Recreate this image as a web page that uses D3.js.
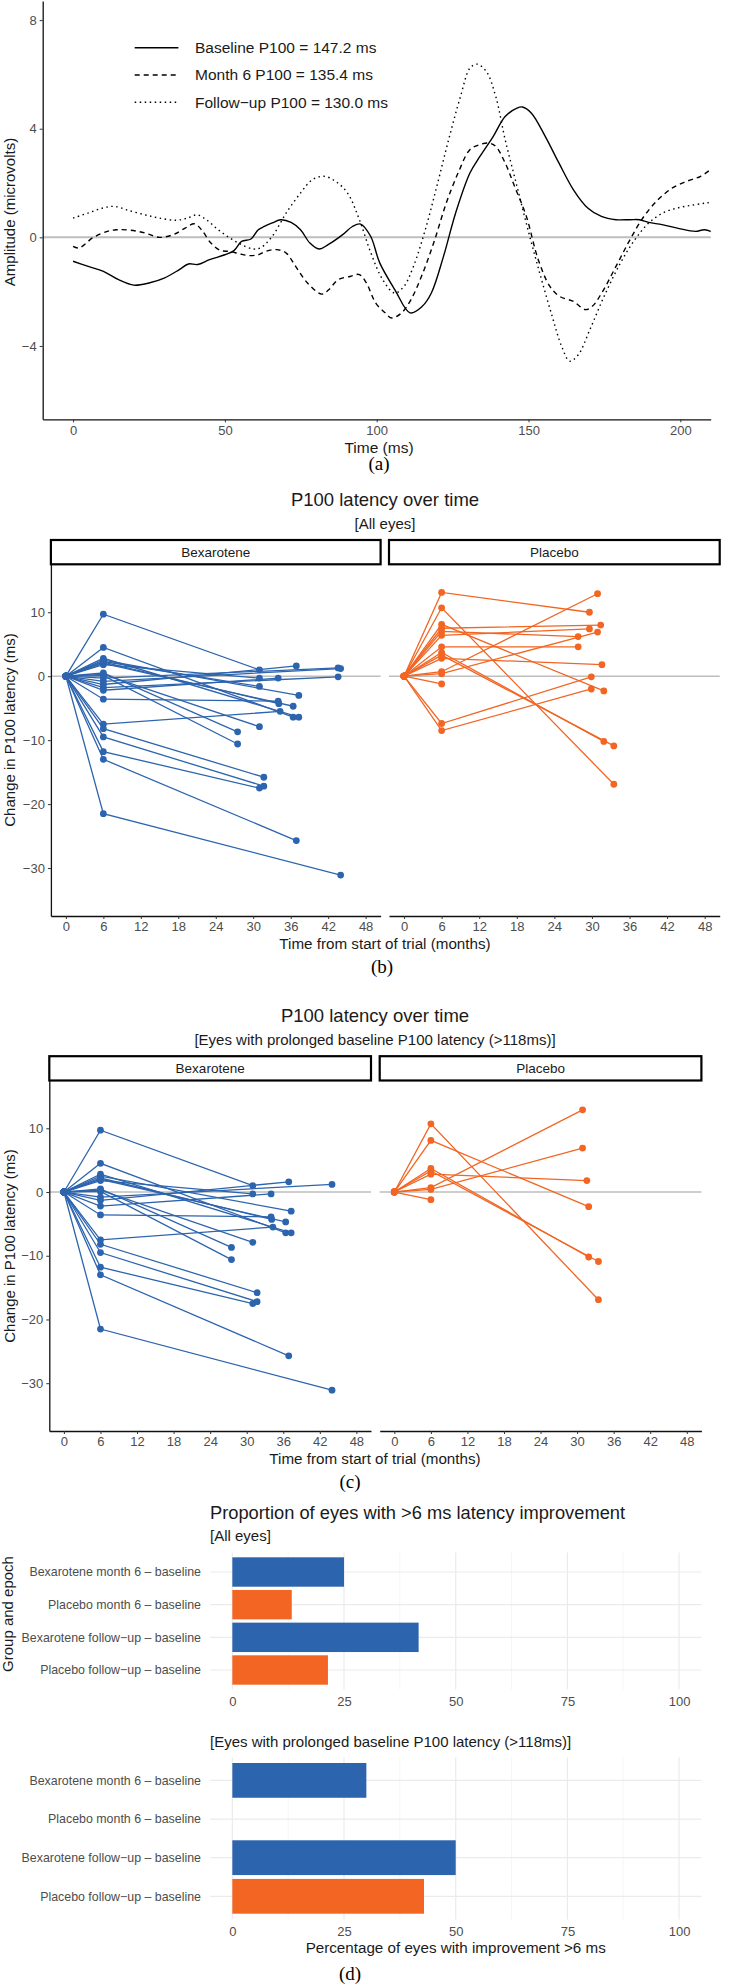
<!DOCTYPE html>
<html>
<head>
<meta charset="utf-8">
<script src="https://cdn.jsdelivr.net/npm/d3@7"></script>
<style>
body { margin: 0; background: #fff; }
text { font-family: "Liberation Sans", Arial, sans-serif; }
.tag { font-family: "Liberation Serif", "Times New Roman", serif; }
</style>
</head>
<body>
<div id="chart"></div>
<script>
// ---- (a) VEP waveforms, [time ms, amplitude microvolts]
const baselineWave = [[0,-0.88],[5,-1.07],[10,-1.25],[15,-1.56],[20,-1.76],[25,-1.68],[30,-1.5],[35,-1.19],[38,-0.98],[41,-1.0],[45,-0.82],[50,-0.64],[53,-0.49],[55.5,-0.15],[58.6,-0.06],[61,0.28],[63,0.4],[65.6,0.53],[68.4,0.65],[71.8,0.55],[74.9,0.28],[78,-0.21],[81,-0.43],[84,-0.27],[88.8,0.1],[92,0.4],[94.7,0.49],[98,0.04],[101,-0.94],[106,-1.93],[111,-2.78],[115,-2.54],[118,-2.05],[122,-0.7],[126,0.9],[130.7,2.37],[134,2.98],[138.4,3.72],[142.3,4.45],[146.2,4.76],[148,4.8],[150.9,4.58],[155.5,3.72],[160,2.74],[164.8,1.75],[169.5,1.08],[174,0.77],[178.8,0.65],[183.4,0.65],[186.5,0.65],[189.6,0.55],[194,0.47],[199,0.34],[205,0.22],[208,0.28],[212,0.13]];
const month6Wave = [[0,-0.33],[2,-0.39],[6.7,0.0],[11.3,0.22],[14.4,0.28],[19,0.26],[23.7,0.16],[28.4,0.0],[33,0.1],[36.9,0.34],[40,0.5],[42.3,0.28],[45.4,-0.21],[48.5,-0.48],[51.6,-0.52],[54.7,-0.6],[57.8,-0.67],[61,-0.64],[63.3,-0.52],[67,-0.45],[70.2,-0.58],[73.3,-1.07],[77.2,-1.68],[81.9,-2.09],[84.2,-1.93],[87.3,-1.56],[91.2,-1.44],[94.3,-1.37],[96.6,-1.68],[99.7,-2.42],[102.8,-2.78],[105,-2.97],[108.2,-2.78],[111.3,-2.29],[115.2,-1.31],[119.1,-0.09],[122.9,1.26],[126.8,2.37],[130.7,3.23],[133.8,3.41],[136.9,3.47],[139.2,3.35],[142.3,2.74],[145.4,1.88],[149.3,0.77],[153.2,-0.82],[157,-1.8],[160.2,-2.17],[164.8,-2.36],[168.7,-2.66],[171,-2.54],[174.1,-2.05],[178.8,-1.07],[183.4,-0.09],[188,0.77],[192.7,1.39],[197.4,1.82],[202,2.06],[206.7,2.25],[211.3,2.61]];
const followUpWave = [[0,0.71],[5.1,0.9],[9.8,1.08],[13.6,1.14],[18.3,0.99],[23.7,0.83],[28.4,0.71],[33.8,0.63],[37.7,0.71],[40.8,0.83],[43.9,0.65],[47.8,0.28],[51.6,-0.02],[55.5,-0.27],[59.4,-0.43],[61.7,-0.39],[65.6,0.04],[70.2,0.9],[74.9,1.63],[78.8,2.12],[82.6,2.25],[86.5,2.06],[90.4,1.63],[94.3,0.65],[98.1,-0.58],[102,-1.56],[105.9,-2.05],[109,-1.8],[112.1,-1.07],[116,0.28],[119.8,1.88],[123.7,3.6],[127.6,5.19],[130.7,6.23],[133,6.38],[136.1,6.11],[139.2,5.19],[142.3,3.6],[146.2,1.88],[150.1,0.16],[154,-1.44],[157.8,-2.91],[160.9,-4.01],[163.6,-4.56],[166.4,-4.32],[170.2,-3.4],[174.9,-2.17],[180.3,-0.94],[185,-0.09],[189.6,0.53],[194.3,0.9],[199,1.08],[203.6,1.18],[208.2,1.26],[212,1.32]];
const waveLegend = ["Baseline P100 = 147.2 ms", "Month 6 P100 = 135.4 ms", "Follow\u2212up P100 = 130.0 ms"];
const waveTicksX = [0, 50, 100, 150, 200];
const waveTicksY = [-4, 0, 4, 8];

// ---- (b)/(c) change in P100 latency per eye
// month 6 change, follow-up month, follow-up change, in the prolonged-baseline subset?
const bexM6     = [9.7, 4.5, 2.8, 2.5, 2.2, 2.0, 1.8, 2.3, 0.5, 0.1, 0.3, -0.3, -0.8, -1.3, -1.8, -2.2, -3.6, -7.5, -8.2, -9.5, -11.8, -13.0, -21.5];
const bexFuTime = [31.0, 36.4, 37.3, 37.3, 34.1, 36.4, 31.0, 31.0, 27.5, 27.5, 31.0, 43.6, 44.0, 36.9, 43.6, 34.0, 34.0, 34.3, 31.7, 31.7, 31.0, 36.9, 44.0];
const bexFu     = [1.0, -6.4, -6.4, -3.0, -4.3, -4.7, -0.3, -1.6, -8.7, -10.6, -7.9, 1.3, 1.2, 1.6, -0.1, -0.3, -3.9, -5.5, -15.8, -17.2, -17.5, -25.7, -31.1];
const bexLong   = [1, 1, 1, 1, 1, 1, 1, 0, 1, 1, 1, 0, 1, 1, 0, 1, 1, 1, 1, 1, 1, 1, 1];
const plaM6     = [13.1, 10.7, 8.1, 7.5, 7.0, 6.4, 4.6, 3.7, 3.3, 2.8, 0.7, 0.4, -1.2, -7.4, -8.5];
const plaFuTime = [29.6, 33.5, 31.9, 31.4, 27.8, 29.6, 27.8, 31.9, 33.5, 31.6, 30.9, 30.9, null, 29.9, 29.9];
const plaFu     = [10.0, -16.9, -2.3, 8.0, 6.2, 7.4, 4.6, -10.2, -10.9, 1.8, 12.9, 6.9, null, -0.1, -2.0];
const plaLong   = [0, 1, 1, 0, 0, 0, 0, 1, 1, 1, 1, 1, 1, 0, 0];
const monthTicks = [0, 6, 12, 18, 24, 30, 36, 42, 48];
const changeTicks = [-30, -20, -10, 0, 10];

// ---- (d) proportion with >6 ms improvement
const groups = ["Bexarotene month 6 \u2013 baseline", "Placebo month 6 \u2013 baseline", "Bexarotene follow\u2212up \u2013 baseline", "Placebo follow\u2212up \u2013 baseline"];
const pctAll = [25.0, 13.3, 41.7, 21.4];
const pctLong = [30.0, 0, 50.0, 42.9];
const pctTicks = [0, 25, 50, 75, 100];

const BLUE = "#2D64AE", ORANGE = "#F26522", GREY = "#4D4D4D";

const svg = d3.select("#chart").append("svg")
    .attr("width", 738).attr("height", 1985)
    .style("display", "block");

// small helper for text
function label(g, x, y, txt, size, opts = {}) {
    return g.append("text").attr("x", x).attr("y", y)
        .attr("dy", "0.35em")
        .attr("text-anchor", opts.anchor || "middle")
        .attr("font-size", size)
        .attr("fill", opts.fill || "#1a1a1a")
        .attr("transform", opts.rotate ? `rotate(-90,${x},${y})` : null)
        .attr("class", opts.cls || null)
        .text(txt);
}

function styleAxis(g, domainOn) {
    g.selectAll(".tick line").attr("stroke", "#333").attr("stroke-width", 1);
    g.selectAll(".tick text").attr("fill", GREY).attr("font-size", 13)
        .attr("font-family", '"Liberation Sans", Arial, sans-serif');
    g.select(".domain").attr("stroke", domainOn ? "#111" : "none").attr("stroke-width", 1.3);
}

// ================= (a)
{
    const xA = d3.scaleLinear().domain([-10, 210]).range([42.7, 710.7]);
    const yA = d3.scaleLinear().domain([-6.7, 8.7]).range([419.3, 1.1]);
    const g = svg.append("g");

    g.append("clipPath").attr("id", "clipA").append("rect")
        .attr("x", xA.range()[0]).attr("y", 0).attr("width", xA.range()[1] - xA.range()[0]).attr("height", 420);

    g.append("line").attr("x1", xA.range()[0]).attr("x2", xA.range()[1])
        .attr("y1", yA(0)).attr("y2", yA(0)).attr("stroke", "#BEBEBE").attr("stroke-width", 2);

    const line = d3.line().x(d => xA(d[0])).y(d => yA(d[1])).curve(d3.curveCatmullRom.alpha(0.5));
    const dashes = [null, "5,4", "1.5,3.5"];
    [baselineWave, month6Wave, followUpWave].forEach((w, i) => {
        g.append("path").datum(w).attr("d", line)
            .attr("fill", "none").attr("stroke", "#000").attr("stroke-width", 1.4)
            .attr("stroke-dasharray", dashes[i]).attr("clip-path", "url(#clipA)");
    });

    // legend
    waveLegend.forEach((t, i) => {
        const ly = 47.7 + i * 27.3;
        g.append("line").attr("x1", 134.7).attr("x2", 178.4).attr("y1", ly).attr("y2", ly)
            .attr("stroke", "#000").attr("stroke-width", 1.4).attr("stroke-dasharray", dashes[i]);
        label(g, 195, ly, t, 15.5, { anchor: "start" });
    });

    const ax = g.append("g").attr("transform", `translate(0,${yA.range()[0]})`)
        .call(d3.axisBottom(xA).tickValues(waveTicksX).tickSize(3).tickPadding(3).tickSizeOuter(0));
    styleAxis(ax, true);
    const ay = g.append("g").attr("transform", `translate(${xA.range()[0]},0)`)
        .call(d3.axisLeft(yA).tickValues(waveTicksY).tickSize(3).tickPadding(3).tickSizeOuter(0)
            .tickFormat(d => d < 0 ? "\u2212" + Math.abs(d) : d));
    styleAxis(ay, true);

    label(g, 379, 448, "Time (ms)", 15.5);
    label(g, 9.4, 212, "Amplitude (microvolts)", 15, { rotate: true });
    label(g, 379, 463, "(a)", 19, { cls: "tag", fill: "#000" });
}

// ================= (b) and (c)
function facetChart(L) {
    const g = svg.append("g");
    const y = d3.scaleLinear().domain([-37.5, 17.5]).range([L.bottom, L.top]);
    const facets = [
        { name: "Bexarotene", x0: L.bex[0], x1: L.bex[1], color: BLUE, m6: bexM6, ft: bexFuTime, fu: bexFu, keep: bexLong },
        { name: "Placebo", x0: L.pla[0], x1: L.pla[1], color: ORANGE, m6: plaM6, ft: plaFuTime, fu: plaFu, keep: plaLong }
    ];

    label(g, L.cx, L.titleY, "P100 latency over time", 18.5);
    label(g, L.cx, L.titleY + 24, L.subtitle, 15);

    facets.forEach((f, fi) => {
        const x = d3.scaleLinear().domain([-2.4, 50.4]).range([f.x0, f.x1]);

        // strip
        g.append("rect").attr("x", f.x0).attr("y", L.top - 24.3)
            .attr("width", f.x1 - f.x0).attr("height", 24.3)
            .attr("fill", "#fff").attr("stroke", "#000").attr("stroke-width", 2.2);
        label(g, (f.x0 + f.x1) / 2, L.top - 12.2, f.name, 13.5);

        g.append("line").attr("x1", f.x0).attr("x2", f.x1).attr("y1", y(0)).attr("y2", y(0))
            .attr("stroke", "#BEBEBE").attr("stroke-width", 1.6);

        const eyes = f.m6.map((v, i) => ({ m6: v, ft: f.ft[i], fu: f.fu[i], keep: f.keep[i] }))
            .filter(e => !L.prolonged || e.keep);

        const ln = d3.line().x(d => x(d[0])).y(d => y(d[1]));
        eyes.forEach(e => {
            const pts = [[0, 0], [6, e.m6]];
            if (e.ft != null) pts.push([e.ft, e.fu]);
            g.append("path").datum(pts).attr("d", ln)
                .attr("fill", "none").attr("stroke", f.color).attr("stroke-width", 1.3);
        });
        eyes.forEach(e => {
            const pts = [[0, 0], [6, e.m6]];
            if (e.ft != null) pts.push([e.ft, e.fu]);
            g.selectAll(null).data(pts).join("circle")
                .attr("cx", d => x(d[0])).attr("cy", d => y(d[1])).attr("r", 3.4)
                .attr("fill", f.color);
        });

        const ax = g.append("g").attr("transform", `translate(0,${L.bottom})`)
            .call(d3.axisBottom(x).tickValues(monthTicks).tickSize(3).tickPadding(3).tickSizeOuter(0));
        styleAxis(ax, true);

        if (fi === 0) {
            const ay = g.append("g").attr("transform", `translate(${f.x0},0)`)
                .call(d3.axisLeft(y).tickValues(changeTicks).tickSize(3).tickPadding(3).tickSizeOuter(0)
                    .tickFormat(d => d < 0 ? "\u2212" + Math.abs(d) : d));
            styleAxis(ay, true);
        }
    });

    label(g, L.cx, L.bottom + 28, "Time from start of trial (months)", 15.2);
    label(g, 9.4, L.yTitleY, "Change in P100 latency (ms)", 15, { rotate: true });
    label(g, L.tagX, L.bottom + 50, L.tag, 19, { cls: "tag", fill: "#000" });
}

facetChart({ top: 564.3, bottom: 916, bex: [50.9, 380.6], pla: [389, 719.7], titleY: 500, cx: 385,
    subtitle: "[All eyes]", prolonged: false, yTitleY: 730, tag: "(b)", tagX: 382 });
facetChart({ top: 1080.5, bottom: 1431, bex: [49.3, 371], pla: [379.7, 701.4], titleY: 1016, cx: 375,
    subtitle: "[Eyes with prolonged baseline P100 latency (>118ms)]", prolonged: true, yTitleY: 1246, tag: "(c)", tagX: 350 });

// ================= (d)
{
    const g = svg.append("g");
    const x = d3.scaleLinear().domain([-5, 105]).range([210, 701.4]);

    label(g, 210, 1512.7, "Proportion of eyes with >6 ms latency improvement", 18.3, { anchor: "start" });

    function barPanel(top, bottom, subtitleY, subtitle, values) {
        const y = d3.scaleBand().domain(groups).range([top, bottom]).paddingInner(0.1).paddingOuter(0.15);
        label(g, 210, subtitleY, subtitle, 15, { anchor: "start" });

        const minor = d3.range(12.5, 100, 25);
        g.selectAll(null).data(minor).join("line")
            .attr("x1", d => x(d)).attr("x2", d => x(d)).attr("y1", top).attr("y2", bottom)
            .attr("stroke", "#F2F2F2").attr("stroke-width", 0.7);
        g.selectAll(null).data(pctTicks).join("line")
            .attr("x1", d => x(d)).attr("x2", d => x(d)).attr("y1", top).attr("y2", bottom)
            .attr("stroke", "#EBEBEB").attr("stroke-width", 1.2);
        g.selectAll(null).data(groups).join("line")
            .attr("x1", x.range()[0]).attr("x2", x.range()[1])
            .attr("y1", d => y(d) + y.bandwidth() / 2).attr("y2", d => y(d) + y.bandwidth() / 2)
            .attr("stroke", "#EBEBEB").attr("stroke-width", 1.2);

        g.selectAll(null).data(groups).join("rect")
            .attr("x", x(0)).attr("y", d => y(d))
            .attr("width", (d, i) => x(values[i]) - x(0)).attr("height", y.bandwidth())
            .attr("fill", (d, i) => i % 2 === 0 ? BLUE : ORANGE);

        g.selectAll(null).data(groups).join("text")
            .attr("x", 201).attr("y", d => y(d) + y.bandwidth() / 2).attr("dy", "0.35em")
            .attr("text-anchor", "end").attr("font-size", 12.4).attr("fill", GREY)
            .text(d => d);

        const ax = g.append("g").attr("transform", `translate(0,${bottom})`)
            .call(d3.axisBottom(x).tickValues(pctTicks).tickSize(0).tickPadding(7));
        styleAxis(ax, false);
    }

    barPanel(1552.4, 1689.6, 1536, "[All eyes]", pctAll);
    barPanel(1757.2, 1919.5, 1741.7, "[Eyes with prolonged baseline P100 latency (>118ms)]", pctLong);

    label(g, 455.7, 1947.7, "Percentage of eyes with improvement >6 ms", 15.2);
    label(g, 7.5, 1614, "Group and epoch", 15, { rotate: true });
    label(g, 350, 1973, "(d)", 19, { cls: "tag", fill: "#000" });
}
</script>
</body>
</html>
